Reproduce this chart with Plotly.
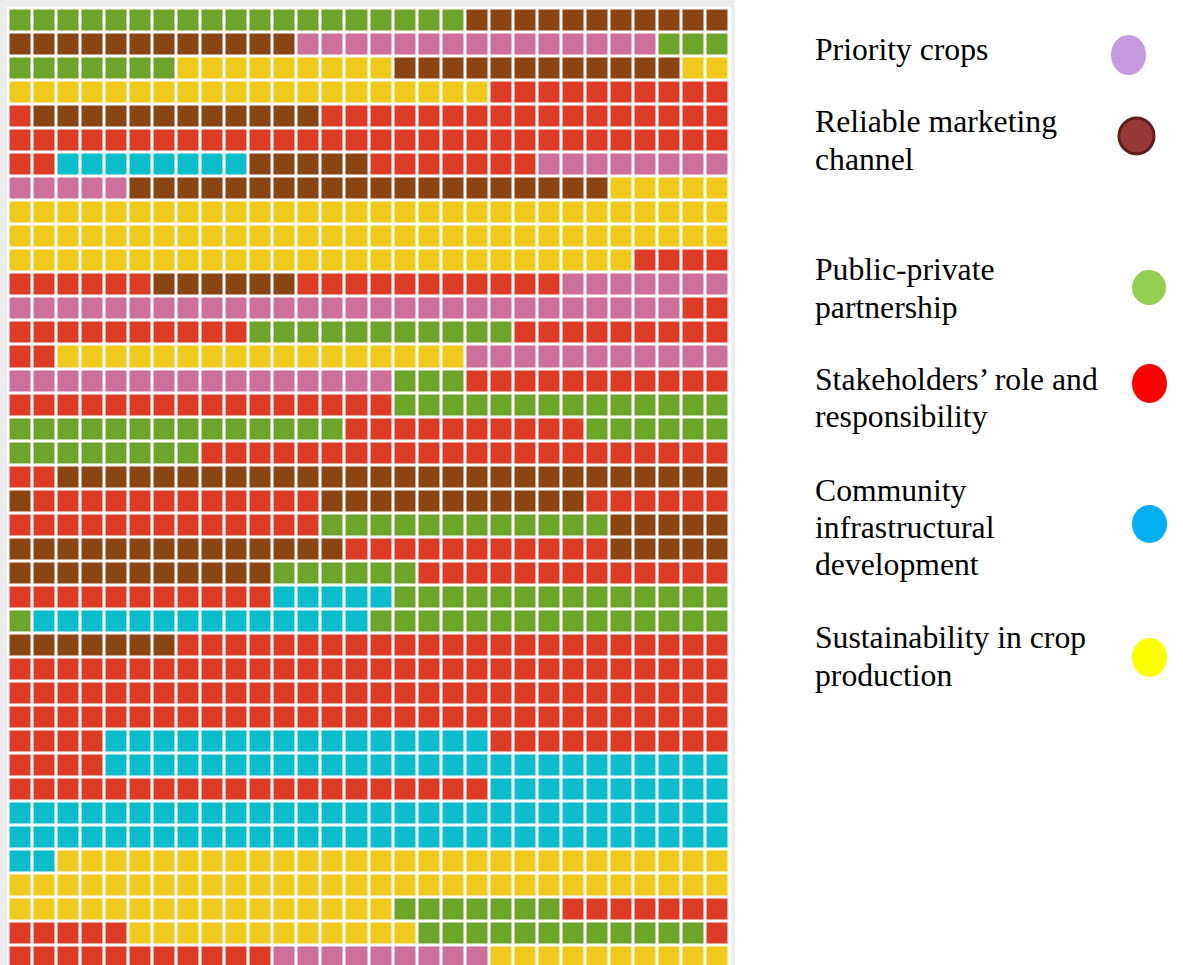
import plotly.graph_objects as go

W, H = 1183, 965

# Categories, their tile colours and the legend swatch colours
categories = [
    "Priority crops",
    "Reliable marketing channel",
    "Public-private partnership",
    "Stakeholders’ role and responsibility",
    "Community infrastructural development",
    "Sustainability in crop production",
]
codes = ["P", "B", "G", "R", "C", "Y"]
tile_colors = ["#CC6F9A", "#8B4513", "#6DA52A", "#DC3C26", "#0CBDCB", "#EFC91B"]
swatch_colors = ["#C49BDF", "#943838", "#92D050", "#FF0000", "#00B0F0", "#FFFF00"]

# Each grid row (top to bottom) as runs of <code><count>, 30 tiles per row
row_runs = [
    "G19 B11",
    "B12 P15 G3",
    "G7 Y9 B12 Y2",
    "Y20 R10",
    "R1 B12 R17",
    "R30",
    "R2 C8 B5 R7 P8",
    "P5 B20 Y5",
    "Y30",
    "Y30",
    "Y26 R4",
    "R6 B6 R11 P7",
    "P28 R2",
    "R10 G11 R9",
    "R2 Y17 P11",
    "P16 G3 R11",
    "R16 G14",
    "G14 R10 G6",
    "G8 R22",
    "R2 B28",
    "B1 R12 B11 R6",
    "R13 G12 B5",
    "B14 R11 B5",
    "B11 G6 R13",
    "R11 C5 G14",
    "G1 C14 G15",
    "B7 R23",
    "R30",
    "R30",
    "R30",
    "R4 C16 R10",
    "R4 C26",
    "R20 C10",
    "C30",
    "C30",
    "C2 Y28",
    "Y30",
    "Y16 G7 R7",
    "R5 Y12 G12 R1",
    "R11 P9 Y10",
]

# Legend text, one list of lines per category
legend_lines = [
    ["Priority crops"],
    ["Reliable marketing", "channel"],
    ["Public-private", "partnership"],
    ["Stakeholders’ role and", "responsibility"],
    ["Community", "infrastructural", "development"],
    ["Sustainability in crop", "production"],
]


def expand(run_text):
    cells = []
    for token in run_text.split():
        cells += [codes.index(token[0])] * int(token[1:])
    return cells


z = [expand(r) for r in row_runs]
n_rows, n_cols = len(z), len(z[0])

colorscale = [[k / (len(codes) - 1), c] for k, c in enumerate(tile_colors)]

fig = go.Figure()
fig.add_trace(
    go.Heatmap(
        z=z,
        x=list(range(n_cols)),
        y=list(range(n_rows)),
        zmin=0,
        zmax=len(codes) - 1,
        colorscale=colorscale,
        showscale=False,
        xgap=3,
        ygap=3,
        hoverinfo="skip",
    )
)


def fx(px):
    return px / W


def fy(py):
    return 1 - py / H


grid_left, grid_right, grid_top = 8.5, 729.5, 8.5
pitch = (grid_right - grid_left) / n_cols
rows_visible = (H - grid_top) / pitch

shapes = [
    # light frame around the tile grid
    dict(type="rect", xref="paper", yref="paper", x0=fx(0), x1=fx(735),
         y0=-0.05, y1=fy(0), fillcolor="#EEEEEE", line_width=0, layer="below"),
    dict(type="rect", xref="paper", yref="paper", x0=fx(7), x1=fx(731),
         y0=-0.05, y1=fy(7), fillcolor="#FFFFFF", line_width=0, layer="below"),
]

swatch_boxes = [
    (1111, 1146, 35, 75),
    (1119, 1154, 118, 154),
    (1132, 1166, 270, 305),
    (1132, 1167, 364, 403),
    (1132, 1167, 505, 543),
    (1132, 1167, 638, 677),
]
for i, (x0, x1, y0, y1) in enumerate(swatch_boxes):
    line = dict(width=3, color="#5E1F1F") if i == 1 else dict(width=0)
    shapes.append(dict(type="circle", xref="paper", yref="paper",
                       x0=fx(x0), x1=fx(x1), y0=fy(y1), y1=fy(y0),
                       fillcolor=swatch_colors[i], line=line))

line_centres = [[49], [121, 159], [269, 307], [379, 416], [490, 527, 564], [637, 675]]
annotations = []
for lines, centres in zip(legend_lines, line_centres):
    for text, cy in zip(lines, centres):
        annotations.append(dict(
            text=text, xref="paper", yref="paper", x=fx(813), y=fy(cy),
            xanchor="left", yanchor="middle", showarrow=False,
            font=dict(family="Liberation Serif", size=31.7, color="#000000"),
        ))

fig.update_layout(
    width=W,
    height=H,
    margin=dict(l=0, r=0, t=0, b=0, pad=0),
    paper_bgcolor="#FFFFFF",
    plot_bgcolor="#FFFFFF",
    xaxis=dict(domain=[fx(grid_left), fx(grid_right)], range=[-0.5, n_cols - 0.5],
               visible=False, fixedrange=True),
    yaxis=dict(domain=[0, fy(grid_top)], range=[rows_visible - 0.5, -0.5],
               visible=False, fixedrange=True),
    shapes=shapes,
    annotations=annotations,
    showlegend=False,
)

fig.write_html("out.html")
